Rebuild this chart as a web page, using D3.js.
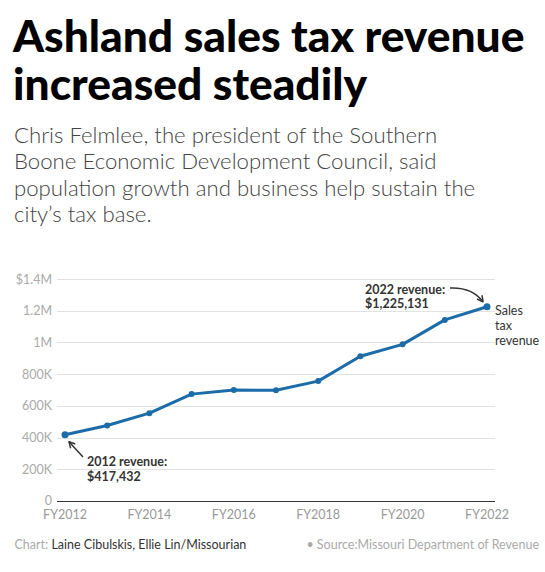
<!DOCTYPE html>
<html>
<head>
<meta charset="utf-8">
<script src="https://cdn.jsdelivr.net/npm/d3@7"></script>
<style>
	body { margin: 0; background: #fff; }
	svg text { font-family: Lato, "Open Sans", sans-serif; }
</style>
</head>
<body>
<svg id="chart" width="545" height="572"></svg>
<script>
'use strict';

var years = [2012, 2013, 2014, 2015, 2016, 2017, 2018, 2019, 2020, 2021, 2022];
var revenue = [417432, 476000, 554000, 674000, 700000, 698000, 756000, 913000, 988000, 1142000, 1225131];
var yTicks = [0, 200000, 400000, 600000, 800000, 1000000, 1200000, 1400000];
var yTickLabels = ["0", "200K", "400K", "600K", "800K", "1M", "1.2M", "$1.4M"];
var xTicks = [2012, 2014, 2016, 2018, 2020, 2022];
var xTickLabels = ["FY2012", "FY2014", "FY2016", "FY2018", "FY2020", "FY2022"];

var titleLines = ["Ashland sales tax revenue", "increased steadily"];
var subtitleLines = [
	"Chris Felmlee, the president of the Southern",
	"Boone Economic Development Council, said",
	"population growth and business help sustain the",
	"city\u2019s tax base."
];
var seriesLabel = ["Sales", "tax", "revenue"];

var svg = d3.select("#chart");

var x = d3.scaleLinear().domain([2012, 2022]).range([65, 487]);
var y = d3.scaleLinear().domain([0, 1400000]).range([501, 279]);

// header
svg.append("g").selectAll("text")
	.data(titleLines)
	.enter().append("text")
	.attr("x", 13)
	.attr("y", function(d, i) { return 52 + i * 48; })
	.attr("font-size", 44.3)
	.attr("font-weight", 900)
	.attr("fill", "#000")
	.text(function(d) { return d; });

svg.append("g").selectAll("text")
	.data(subtitleLines)
	.enter().append("text")
	.attr("x", 14)
	.attr("y", function(d, i) { return 143 + i * 26.3; })
	.attr("font-size", 22.2)
	.attr("font-weight", 300)
	.attr("fill", "#444")
	.text(function(d) { return d; });

// grid + y labels
var grid = svg.append("g");
grid.selectAll("line")
	.data(yTicks)
	.enter().append("line")
	.attr("x1", 57)
	.attr("x2", 495)
	.attr("y1", function(d) { return Math.round(y(d)) + 0.5; })
	.attr("y2", function(d) { return Math.round(y(d)) + 0.5; })
	.attr("stroke", function(d) { return d === 0 ? "#333" : "#e2e2e2"; })
	.attr("stroke-width", function(d) { return d === 0 ? 1.2 : 1; });

grid.selectAll("text")
	.data(yTicks)
	.enter().append("text")
	.attr("x", 52)
	.attr("y", function(d) { return y(d) + (d === 0 ? 3.5 : 4.5); })
	.attr("text-anchor", "end")
	.attr("font-size", 12.5)
	.attr("fill", "#aaa")
	.text(function(d, i) { return yTickLabels[i]; });

svg.append("g").selectAll("text")
	.data(xTicks)
	.enter().append("text")
	.attr("x", function(d) { return x(d); })
	.attr("y", 518.5)
	.attr("text-anchor", "middle")
	.attr("font-size", 12.5)
	.attr("fill", "#999")
	.text(function(d, i) { return xTickLabels[i]; });

// line + dots
var points = years.map(function(d, i) { return { year: d, value: revenue[i] }; });

var line = d3.line()
	.x(function(d) { return x(d.year); })
	.y(function(d) { return y(d.value); });

svg.append("path")
	.datum(points)
	.attr("d", line)
	.attr("fill", "none")
	.attr("stroke", "#1b6ca8")
	.attr("stroke-width", 3)
	.attr("stroke-linejoin", "round");

svg.append("g").selectAll("circle")
	.data(points)
	.enter().append("circle")
	.attr("cx", function(d) { return x(d.year); })
	.attr("cy", function(d) { return y(d.value); })
	.attr("r", function(d, i) { return i === 0 || i === points.length - 1 ? 3.5 : 3; })
	.attr("fill", "#1b6ca8");

// series label
svg.append("g").selectAll("text")
	.data(seriesLabel)
	.enter().append("text")
	.attr("x", 495)
	.attr("y", function(d, i) { return 315 + i * 15; })
	.attr("font-size", 12.5)
	.attr("fill", "#333")
	.text(function(d) { return d; });

// annotations
function arrowHead(g, tx, ty, angle) {
	var len = 6, spread = 0.5;
	var a1 = angle + Math.PI - spread, a2 = angle + Math.PI + spread;
	g.append("path")
		.attr("d", "M" + (tx + len * Math.cos(a1)) + "," + (ty + len * Math.sin(a1)) +
			"L" + tx + "," + ty +
			"L" + (tx + len * Math.cos(a2)) + "," + (ty + len * Math.sin(a2)))
		.attr("fill", "none")
		.attr("stroke", "#333")
		.attr("stroke-width", 1.5)
		.attr("stroke-linecap", "round")
		.attr("stroke-linejoin", "round");
}

function annotate(lines, tx, ty) {
	var g = svg.append("g");
	g.selectAll("text")
		.data(lines)
		.enter().append("text")
		.attr("x", tx)
		.attr("y", function(d, i) { return ty + i * 14.5; })
		.attr("font-size", 12.5)
		.attr("font-weight", 700)
		.attr("fill", "#333")
		.text(function(d) { return d; });
	return g;
}

var first = points[0], last = points[points.length - 1];
var fmt = d3.format("$,");

var a1 = annotate(["2012 revenue:", fmt(first.value)], 87, 466);
var p1x = x(first.year) + 4, p1y = y(first.value) + 7;
a1.append("path")
	.attr("d", "M83,457L" + p1x + "," + p1y)
	.attr("fill", "none")
	.attr("stroke", "#333")
	.attr("stroke-width", 1.5);
arrowHead(a1, p1x, p1y, Math.atan2(p1y - 457, p1x - 83));

var a2 = annotate(["2022 revenue:", fmt(last.value)], 365, 293.5);
var p2x = x(last.year) - 4, p2y = y(last.value) - 5;
a2.append("path")
	.attr("d", "M450,288Q472,287 " + p2x + "," + p2y)
	.attr("fill", "none")
	.attr("stroke", "#333")
	.attr("stroke-width", 1.5);
arrowHead(a2, p2x, p2y, Math.atan2(p2y - 287, p2x - 472));

// footer
var foot = svg.append("text")
	.attr("x", 14.5)
	.attr("y", 549)
	.attr("font-size", 12.5)
	.attr("fill", "#aaa");
foot.append("tspan").text("Chart: ");
foot.append("tspan").attr("fill", "#333").text("Laine Cibulskis, Ellie Lin/Missourian");

svg.append("text")
	.attr("x", 539)
	.attr("y", 549)
	.attr("text-anchor", "end")
	.attr("font-size", 12.5)
	.attr("fill", "#aaa")
	.text("\u2022 Source:Missouri Department of Revenue");
</script>
</body>
</html>
